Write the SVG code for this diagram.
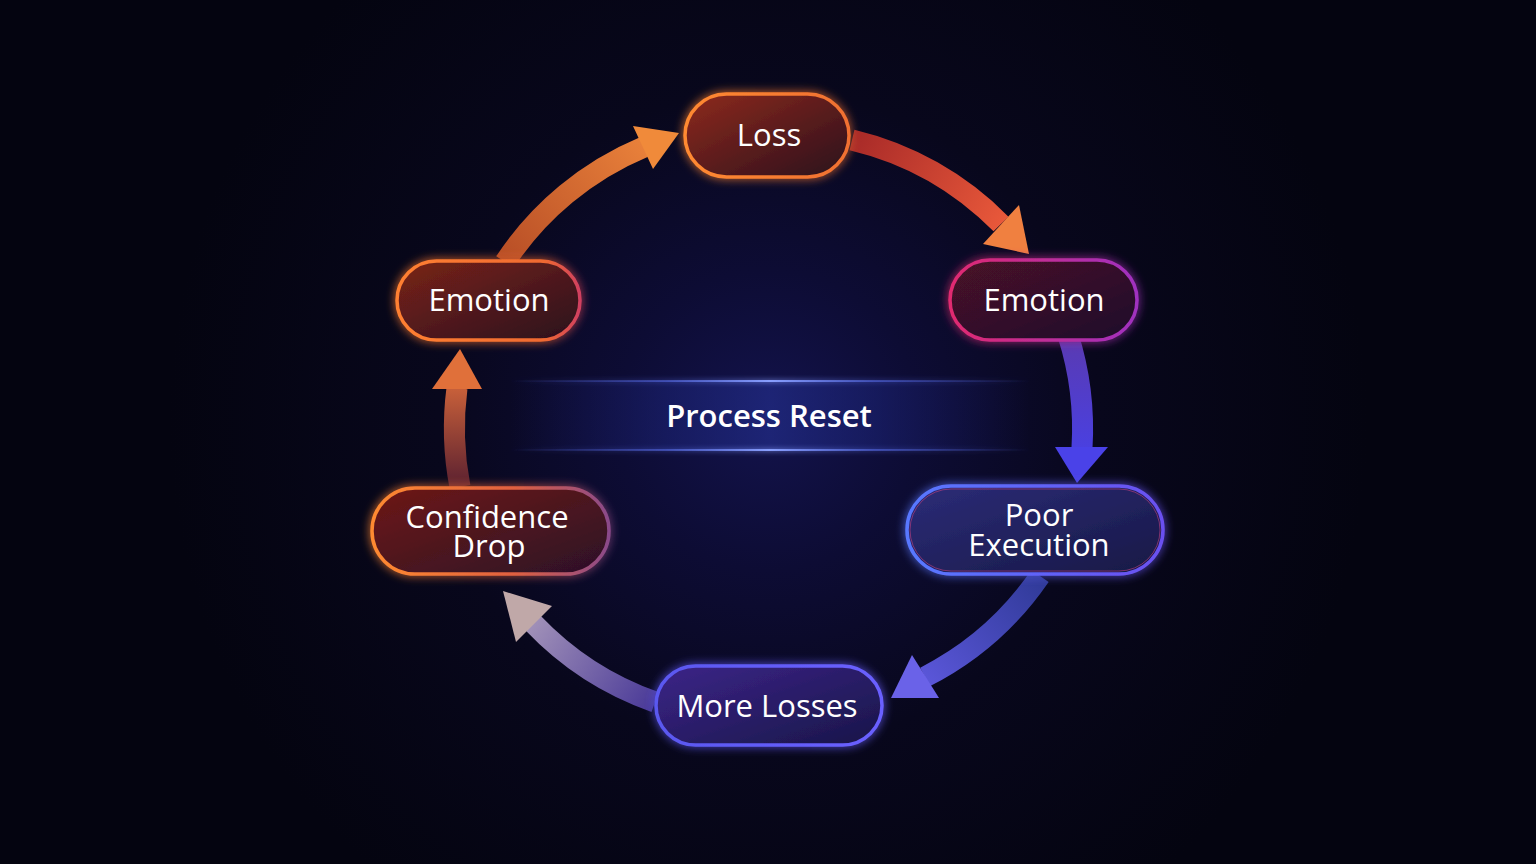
<svg xmlns="http://www.w3.org/2000/svg" width="1536" height="864" viewBox="0 0 1536 864">
<defs>
<style>
.lbl{font-family:"Open Sans","Noto Sans","Liberation Sans",sans-serif;font-size:31px;font-weight:500;fill:#ffffff;text-anchor:middle}
.band{fill:none;stroke-width:21;stroke-linecap:butt}
.nodebox{stroke-width:3.5}
</style>
<radialGradient id="bg" cx="768" cy="420" r="600" gradientUnits="userSpaceOnUse">
<stop offset="0" stop-color="#13134c"/>
<stop offset="0.25" stop-color="#0d0c34"/>
<stop offset="0.55" stop-color="#08071c"/>
<stop offset="1" stop-color="#040410"/>
</radialGradient>
<linearGradient id="resetBand" x1="510" y1="0" x2="1030" y2="0" gradientUnits="userSpaceOnUse">
<stop offset="0" stop-color="#1a1e70" stop-opacity="0"/>
<stop offset="0.3" stop-color="#1c2478" stop-opacity="0.55"/>
<stop offset="0.5" stop-color="#222c88" stop-opacity="0.7"/>
<stop offset="0.7" stop-color="#1c2478" stop-opacity="0.55"/>
<stop offset="1" stop-color="#1a1e70" stop-opacity="0"/>
</linearGradient>
<linearGradient id="resetLine" x1="510" y1="0" x2="1030" y2="0" gradientUnits="userSpaceOnUse">
<stop offset="0" stop-color="#5060d0" stop-opacity="0"/>
<stop offset="0.3" stop-color="#5468e0" stop-opacity="0.6"/>
<stop offset="0.5" stop-color="#8aa0ff" stop-opacity="1"/>
<stop offset="0.7" stop-color="#5468e0" stop-opacity="0.6"/>
<stop offset="1" stop-color="#5060d0" stop-opacity="0"/>
</linearGradient>
<filter id="glow" x="-30%" y="-60%" width="160%" height="220%">
<feGaussianBlur stdDeviation="5" result="b"/>
<feMerge><feMergeNode in="b"/><feMergeNode in="SourceGraphic"/></feMerge>
</filter>
<filter id="softglow" x="-20%" y="-400%" width="140%" height="900%">
<feGaussianBlur stdDeviation="2.5" result="b"/>
<feMerge><feMergeNode in="b"/><feMergeNode in="SourceGraphic"/></feMerge>
</filter>
<linearGradient id="fLoss" x1="0" y1="0" x2="1" y2="1"><stop offset="0" stop-color="#8e2a1e"/><stop offset="1" stop-color="#2a0f1a"/></linearGradient>
<linearGradient id="sLoss" x1="0" y1="0" x2="1" y2="0"><stop offset="0" stop-color="#ff8a30"/><stop offset="1" stop-color="#f07030"/></linearGradient>
<linearGradient id="fEmoR" x1="0" y1="0" x2="1" y2="1"><stop offset="0" stop-color="#4a1228"/><stop offset="1" stop-color="#1e0f2a"/></linearGradient>
<linearGradient id="sEmoR" x1="0" y1="0" x2="1" y2="0"><stop offset="0" stop-color="#e02a70"/><stop offset="1" stop-color="#a030c0"/></linearGradient>
<linearGradient id="fEmoL" x1="0" y1="0" x2="1" y2="1"><stop offset="0" stop-color="#7a2418"/><stop offset="1" stop-color="#2a0f1e"/></linearGradient>
<linearGradient id="sEmoL" x1="0" y1="0" x2="1" y2="0"><stop offset="0" stop-color="#ff8030"/><stop offset="0.8" stop-color="#f06a30"/><stop offset="1" stop-color="#d04060"/></linearGradient>
<linearGradient id="fConf" x1="0" y1="0" x2="1" y2="1"><stop offset="0" stop-color="#6e1a16"/><stop offset="1" stop-color="#2c1028"/></linearGradient>
<linearGradient id="sConf" x1="0" y1="0" x2="1" y2="0"><stop offset="0" stop-color="#ff8a30"/><stop offset="0.6" stop-color="#e06040"/><stop offset="1" stop-color="#8a4a8a"/></linearGradient>
<linearGradient id="fPoor" x1="0" y1="0" x2="1" y2="1"><stop offset="0" stop-color="#2c2c78"/><stop offset="1" stop-color="#171845"/></linearGradient>
<linearGradient id="sPoor" x1="0" y1="0" x2="1" y2="0"><stop offset="0" stop-color="#5878ff"/><stop offset="1" stop-color="#6a50f0"/></linearGradient>
<linearGradient id="fMore" x1="0" y1="0" x2="1" y2="1"><stop offset="0" stop-color="#3c2488"/><stop offset="1" stop-color="#181648"/></linearGradient>
<linearGradient id="sMore" x1="0" y1="0" x2="1" y2="0"><stop offset="0" stop-color="#5a58f0"/><stop offset="1" stop-color="#6a60ff"/></linearGradient>
<linearGradient id="a1" x1="852" y1="140" x2="1001" y2="224" gradientUnits="userSpaceOnUse"><stop offset="0" stop-color="#a82a28"/><stop offset="1" stop-color="#e8583a"/></linearGradient>
<linearGradient id="a2" x1="0" y1="335" x2="0" y2="448" gradientUnits="userSpaceOnUse"><stop offset="0" stop-color="#5a3ab0"/><stop offset="1" stop-color="#4a40e0"/></linearGradient>
<linearGradient id="a3" x1="1040" y1="576" x2="925" y2="677" gradientUnits="userSpaceOnUse"><stop offset="0" stop-color="#303a98"/><stop offset="1" stop-color="#5a56d8"/></linearGradient>
<linearGradient id="a4" x1="655" y1="702" x2="533" y2="623" gradientUnits="userSpaceOnUse"><stop offset="0" stop-color="#4a3a98"/><stop offset="1" stop-color="#a090b8"/></linearGradient>
<linearGradient id="a5" x1="0" y1="487" x2="0" y2="388" gradientUnits="userSpaceOnUse"><stop offset="0" stop-color="#5a2030"/><stop offset="1" stop-color="#c8603a"/></linearGradient>
<linearGradient id="a6" x1="505" y1="262" x2="644" y2="147" gradientUnits="userSpaceOnUse"><stop offset="0" stop-color="#b84e26"/><stop offset="1" stop-color="#e8803a"/></linearGradient>
</defs>

<rect width="1536" height="864" fill="#05050f"/>
<rect width="1536" height="864" fill="url(#bg)"/>

<g id="process-reset">
<rect x="510" y="381" width="520" height="69" fill="url(#resetBand)"/>
<rect x="510" y="380" width="520" height="2" fill="url(#resetLine)" filter="url(#softglow)"/>
<rect x="510" y="449" width="520" height="2" fill="url(#resetLine)" filter="url(#softglow)"/>
<text class="lbl" x="769" y="427" style="font-weight:600">Process Reset</text>
</g>

<g id="connectors">
<path class="band" stroke="url(#a1)" d="M 852 140 A 310 310 0 0 1 1001 224"/>
<polygon points="983,244 1019,205 1029,254" fill="#f08040"/>
<path class="band" stroke="url(#a2)" d="M 1068 335 A 310 310 0 0 1 1082 448"/>
<polygon points="1055,447 1108,447 1077,483" fill="#4a42e8"/>
<path class="band" stroke="url(#a3)" d="M 1040 576 A 310 310 0 0 1 925 677"/>
<polygon points="912,655 939,698 891,698" fill="#6a62e8"/>
<path class="band" stroke="url(#a4)" d="M 655 702 A 310 310 0 0 1 533 623"/>
<polygon points="516,642 552,606 503,591" fill="#c0a8a8"/>
<path class="band" stroke="url(#a5)" d="M 460 487 A 310 310 0 0 1 457 388"/>
<polygon points="432,389 482,389 460,349" fill="#e0703a"/>
<path class="band" stroke="url(#a6)" d="M 505 262 A 310 310 0 0 1 644 147"/>
<polygon points="633,126 653,169 679,133" fill="#f08a3a"/>
</g>

<g id="node-loss">
<rect x="685" y="94" width="164" height="83" rx="41.5" fill="url(#fLoss)" stroke="url(#sLoss)" class="nodebox" filter="url(#glow)"/>
<text class="lbl" x="769" y="146">Loss</text>
</g>
<g id="node-emotion-right">
<rect x="950" y="260" width="187" height="80" rx="40" fill="url(#fEmoR)" stroke="url(#sEmoR)" class="nodebox" filter="url(#glow)"/>
<text class="lbl" x="1044" y="311">Emotion</text>
</g>
<g id="node-poor-execution">
<rect x="907" y="486" width="256" height="88" rx="44" fill="url(#fPoor)" stroke="url(#sPoor)" class="nodebox" filter="url(#glow)"/>
<rect x="910" y="489" width="250" height="82" rx="41" fill="none" stroke="#c04080" stroke-width="1" opacity="0.6"/>
<text class="lbl" x="1039" y="526"><tspan x="1039" y="526">Poor</tspan><tspan x="1039" y="556">Execution</tspan></text>
</g>
<g id="node-more-losses">
<rect x="656" y="666" width="226" height="79" rx="39.5" fill="url(#fMore)" stroke="url(#sMore)" class="nodebox" filter="url(#glow)"/>
<text class="lbl" x="767" y="717">More Losses</text>
</g>
<g id="node-confidence-drop">
<rect x="372" y="488" width="237" height="86" rx="43" fill="url(#fConf)" stroke="url(#sConf)" class="nodebox" filter="url(#glow)"/>
<text class="lbl" x="487" y="528"><tspan x="487" y="528">Confidence</tspan><tspan x="489" y="557">Drop</tspan></text>
</g>
<g id="node-emotion-left">
<rect x="397" y="261" width="183" height="79" rx="39.5" fill="url(#fEmoL)" stroke="url(#sEmoL)" class="nodebox" filter="url(#glow)"/>
<text class="lbl" x="489" y="311">Emotion</text>
</g>
</svg>
